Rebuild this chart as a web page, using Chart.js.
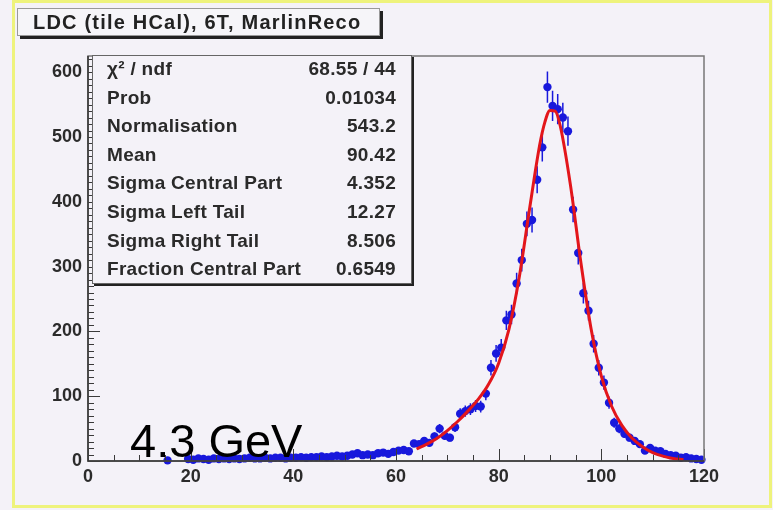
<!DOCTYPE html>
<html>
<head>
<meta charset="utf-8">
<script src="https://cdn.jsdelivr.net/npm/chart.js@4"></script>
<style>
body { margin: 0; background: #fff; }
#wrap { position: relative; width: 773px; height: 510px; background: #f4f2f8; overflow: hidden; font-family: "Liberation Sans", Arial, sans-serif; }
#frame { position: absolute; left: 12px; top: 0; width: 754px; height: 502px; border: 3px solid #eef37c; }
canvas { position: absolute; left: 0; top: 0; }
#title { position: absolute; left: 17px; top: 8px; width: 346px; height: 26px; padding-left: 15px; background: #f6f5f9; border: 1px solid #999; box-shadow: 3px 3px 0 #222; font-weight: bold; font-size: 20px; letter-spacing: 1.2px; line-height: 27px; color: #222; }
#stats { position: absolute; left: 92px; top: 55px; width: 318px; height: 227px; background: #f4f2f8; border: 1px solid #666; box-shadow: 2px 2px 0 #222; }
.row { position: absolute; left: 14px; right: 15px; height: 24px; line-height: 24px; display: flex; justify-content: space-between; font-weight: bold; font-size: 19px; letter-spacing: 0.3px; color: #2a2a2a; }
#gev { position: absolute; left: 130px; top: 417px; font-size: 47px; line-height: 47px; color: #000; white-space: nowrap; }
</style>
</head>
<body>
<div id="wrap">
  <canvas id="chart" width="773" height="510"></canvas>
  <div id="frame"></div>
  <div id="title">LDC (tile HCal), 6T, MarlinReco</div>
  <div id="stats"></div>
  <div id="gev">4.3 GeV</div>
</div>
<script>
// histogram bins (bin centre, entries)
const binX = [15.5,
  19.5, 20.5, 21.5, 22.5, 23.5, 24.5, 25.5, 26.5, 27.5, 28.5, 29.5,
  30.5, 31.5, 32.5, 33.5, 34.5, 35.5, 36.5, 37.5, 38.5, 39.5,
  40.5, 41.5, 42.5, 43.5, 44.5, 45.5, 46.5, 47.5, 48.5, 49.5,
  50.5, 51.5, 52.5, 53.5, 54.5, 55.5, 56.5, 57.5, 58.5, 59.5,
  60.5, 61.5, 62.5, 63.5, 64.5, 65.5, 66.5, 67.5, 68.5, 69.5,
  70.5, 71.5, 72.5, 73.5, 74.5, 75.5, 76.5, 77.5, 78.5, 79.5,
  80.5, 81.5, 82.5, 83.5, 84.5, 85.5, 86.5, 87.5, 88.5, 89.5,
  90.5, 91.5, 92.5, 93.5, 94.5, 95.5, 96.5, 97.5, 98.5, 99.5,
  100.5, 101.5, 102.5, 103.5, 104.5, 105.5, 106.5, 107.5, 108.5, 109.5,
  110.5, 111.5, 112.5, 113.5, 114.5, 115.5, 116.5, 117.5, 118.5, 119.5];
const counts = [1,
  3, 2, 4, 3, 2, 4, 3, 4, 3, 4, 3,
  4, 5, 4, 4, 5, 4, 5, 5, 4, 5,
  5, 6, 5, 6, 6, 7, 6, 7, 8, 7,
  8, 10, 12, 9, 10, 9, 12, 13, 11, 14,
  16, 17, 15, 27, 26, 31, 28, 38, 50, 39,
  36, 52, 73, 77, 80, 85, 84, 104, 144, 166,
  175, 217, 226, 274, 310, 366, 372, 434, 484, 577,
  548, 543, 530, 509, 388, 321, 259, 232, 181, 144,
  121, 90, 59, 50, 42, 36, 31, 26, 16, 20,
  16, 15, 11, 9, 8, 5, 6, 4, 3, 2];

// fitted curve
const fitX = [64, 66, 68, 70, 72, 74, 76, 78, 80, 82, 84, 86, 88, 89, 90, 91, 92, 94, 96, 98, 100, 102, 104, 106, 108, 110, 112, 114, 116];
const fitY = [18.5, 26, 35, 47, 61, 77, 95, 118, 151, 203, 283, 388, 488, 523, 541, 540, 517, 425, 307, 204, 131, 84.5, 55, 35, 22, 13, 7.5, 4, 2];

const xTicks = [0, 20, 40, 60, 80, 100, 120];
const yTicks = [0, 100, 200, 300, 400, 500, 600];

const statLabels = ['\u03C7\u00B2 / ndf', 'Prob', 'Normalisation', 'Mean', 'Sigma Central Part', 'Sigma Left Tail', 'Sigma Right Tail', 'Fraction Central Part'];
const statValues = ['68.55 / 44', '0.01034', '543.2', '90.42', '4.352', '12.27', '8.506', '0.6549'];

const statsEl = document.getElementById('stats');
statLabels.forEach((lab, i) => {
  const r = document.createElement('div');
  r.className = 'row';
  r.style.top = (1 + i * 28.6) + 'px';
  r.innerHTML = '<span>' + lab + '</span><span>' + statValues[i] + '</span>';
  statsEl.appendChild(r);
});

const BLUE = '#1818dc';
const RED = '#e3161b';

const errorBars = {
  id: 'errorBars',
  beforeDatasetsDraw(chart) {
    const { ctx, scales: { x, y } } = chart;
    ctx.save();
    ctx.strokeStyle = BLUE;
    ctx.lineWidth = 1.5;
    ctx.beginPath();
    binX.forEach((bx, i) => {
      const e = Math.sqrt(counts[i]);
      const px = x.getPixelForValue(bx);
      ctx.moveTo(px, y.getPixelForValue(counts[i] + e));
      ctx.lineTo(px, y.getPixelForValue(Math.max(0, counts[i] - e)));
    });
    ctx.stroke();
    ctx.restore();
  }
};

const frameTicks = {
  id: 'frameTicks',
  afterDraw(chart) {
    const { ctx, chartArea: a, scales: { x, y } } = chart;
    ctx.save();
    ctx.strokeStyle = '#3a3a3a';
    ctx.lineWidth = 1;
    ctx.beginPath();
    for (let v = 0; v <= 120; v += 5) {
      const px = Math.round(x.getPixelForValue(v)) + 0.5;
      const len = v % 20 === 0 ? 12 : 6;
      ctx.moveTo(px, a.bottom);
      ctx.lineTo(px, a.bottom - len);
    }
    for (let v = 0; v <= 620; v += 10) {
      const py = Math.round(y.getPixelForValue(v)) + 0.5;
      const len = v % 100 === 0 ? 12 : 6;
      ctx.moveTo(a.left, py);
      ctx.lineTo(a.left + len, py);
    }
    ctx.stroke();
    ctx.strokeStyle = '#777';
    ctx.lineWidth = 1.5;
    ctx.strokeRect(a.left, a.top, a.right - a.left, a.bottom - a.top);
    ctx.strokeStyle = '#333';
    ctx.beginPath();
    ctx.moveTo(a.left, a.top); ctx.lineTo(a.left, a.bottom); ctx.lineTo(a.right, a.bottom);
    ctx.stroke();
    ctx.restore();
  }
};

const tickFont = { family: 'Liberation Sans', size: 18, weight: 'bold' };

new Chart(document.getElementById('chart'), {
  type: 'scatter',
  data: {
    datasets: [
      {
        type: 'line',
        data: fitX.map((v, i) => ({ x: v, y: fitY[i] })),
        borderColor: RED, borderWidth: 3, pointRadius: 0,
        cubicInterpolationMode: 'monotone', fill: false, order: 0
      },
      {
        data: binX.map((v, i) => ({ x: v, y: counts[i] })),
        backgroundColor: BLUE, borderColor: BLUE, borderWidth: 0,
        pointRadius: 4.2, clip: false, order: 1
      }
    ]
  },
  options: {
    responsive: false, animation: false,
    layout: { padding: { left: 48, right: 69, top: 56, bottom: 19 } },
    plugins: { legend: { display: false }, tooltip: { enabled: false } },
    scales: {
      x: {
        type: 'linear', min: 0, max: 120,
        grid: { display: false, drawTicks: false }, border: { display: false },
        ticks: { stepSize: 20, padding: 5, color: '#2b2b2b', font: tickFont },
        afterBuildTicks: s => { s.ticks = xTicks.map(v => ({ value: v })); },
        afterFit: s => { s.height = 30; }
      },
      y: {
        type: 'linear', min: 0, max: 625,
        grid: { display: false, drawTicks: false }, border: { display: false },
        ticks: { stepSize: 100, padding: 6, color: '#2b2b2b', font: tickFont },
        afterBuildTicks: s => { s.ticks = yTicks.map(v => ({ value: v })); },
        afterFit: s => { s.width = 40; }
      }
    }
  },
  plugins: [errorBars, frameTicks]
});
</script>
</body>
</html>
